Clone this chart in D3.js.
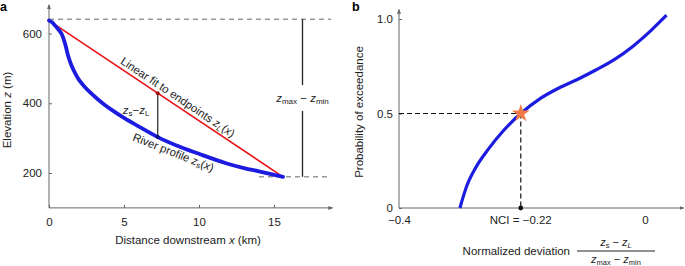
<!DOCTYPE html>
<html>
<head>
<meta charset="utf-8">
<script src="https://cdn.jsdelivr.net/npm/d3@7"></script>
<style>
  body { margin: 0; background: #fff; }
  svg { font-family: "Liberation Sans", Arial, sans-serif; }
</style>
</head>
<body>
<svg id="canvas" width="685" height="266"></svg>
<script>
// panel a: river profile (km, m)
const profileX = [0, 0.2, 0.4, 0.6, 0.84, 1.07, 1.29, 1.5, 1.73, 2.0, 2.4, 2.8, 3.29, 3.7, 4.18, 5.0, 6.0, 7.25, 8.5, 10.0, 11.8, 13.0, 14.07, 15.6];
const profileZ = [637, 632, 623, 613, 599, 571, 534, 508, 487, 467, 446, 429, 410, 396, 381, 358, 333, 303, 279, 255, 228, 214, 204, 189];
const zMax = 641;
const zMin = 189;
const sampleX = 7.25;          // where z_s - z_L is shown
const rangeX = 16.9;           // where z_max - z_min is shown
const ticksA_x = [0, 5, 10, 15];
const ticksA_y = [200, 400, 600];

// panel b: exceedance curve
const devX = [-0.301, -0.29, -0.275, -0.255, -0.23, -0.202, -0.17, -0.14, -0.11, -0.08, -0.05, -0.02, 0.01, 0.035];
const probY = [0, 0.115, 0.215, 0.31, 0.41, 0.5, 0.58, 0.635, 0.68, 0.73, 0.785, 0.855, 0.94, 1.02];
const nciPos = -0.202;         // where the marker sits in the picture
const nciLabel = "NCI = \u22120.22";
const ticksB_x = [-0.4, 0];
const ticksB_y = [0, 0.5, 1.0];

const svg = d3.select("#canvas");
const axisColor = "#666";
const blue = "#1c1ce0";
const red = "#e8151b";

// arrowhead
svg.append("defs").append("marker")
    .attr("id", "arrow")
    .attr("viewBox", "0 0 6 6")
    .attr("refX", 5).attr("refY", 3)
    .attr("markerWidth", 5).attr("markerHeight", 5)
    .attr("orient", "auto")
    .append("path")
    .attr("d", "M0,0.6 L6,3 L0,5.4 Z")
    .attr("fill", axisColor);

function styleAxis(g) {
    g.select(".domain").remove();
    g.selectAll(".tick line").attr("stroke", axisColor);
    g.selectAll(".tick text").attr("fill", "#222").attr("font-size", 11.5);
}

// ---------- panel a ----------
const xA = d3.scaleLinear().domain([0, 15]).range([49, 274]);
const yA = d3.scaleLinear().domain([200, 600]).range([173, 33.5]);

svg.append("g")
    .attr("transform", `translate(0,${yA(100)})`)
    .call(d3.axisBottom(xA).tickValues(ticksA_x).tickSizeInner(-3).tickSizeOuter(0).tickPadding(10))
    .call(styleAxis);
svg.append("g")
    .attr("transform", `translate(${xA(0)},0)`)
    .call(d3.axisLeft(yA).tickValues(ticksA_y).tickSizeInner(-3).tickSizeOuter(0).tickPadding(7))
    .call(styleAxis);

// axis lines with arrows
svg.append("line")
    .attr("x1", xA(0)).attr("x2", xA(18.9))
    .attr("y1", yA(100)).attr("y2", yA(100))
    .attr("stroke", axisColor).attr("marker-end", "url(#arrow)");
svg.append("line")
    .attr("x1", xA(0)).attr("x2", xA(0))
    .attr("y1", yA(100)).attr("y2", yA(682))
    .attr("stroke", axisColor).attr("marker-end", "url(#arrow)");

// dashed z_max / z_min
svg.append("line")
    .attr("x1", xA(0)).attr("x2", xA(18.8))
    .attr("y1", yA(zMax)).attr("y2", yA(zMax))
    .attr("stroke", "#666").attr("stroke-dasharray", "5 4");
svg.append("line")
    .attr("x1", xA(14)).attr("x2", xA(18.8))
    .attr("y1", yA(zMin)).attr("y2", yA(zMin))
    .attr("stroke", "#666").attr("stroke-dasharray", "5 4");

// z_max - z_min bar with a gap for the label
svg.append("line")
    .attr("x1", xA(rangeX)).attr("x2", xA(rangeX))
    .attr("y1", yA(zMax)).attr("y2", 85)
    .attr("stroke", "#222").attr("stroke-width", 1.3);
svg.append("line")
    .attr("x1", xA(rangeX)).attr("x2", xA(rangeX))
    .attr("y1", 111).attr("y2", yA(zMin))
    .attr("stroke", "#222").attr("stroke-width", 1.3);

const rl = svg.append("text")
    .attr("x", xA(rangeX)).attr("y", 102)
    .attr("text-anchor", "middle")
    .attr("font-size", 11.5).attr("fill", "#222");
rl.append("tspan").attr("font-style", "italic").text("z");
rl.append("tspan").attr("font-size", 8).attr("dy", 2).text("max");
rl.append("tspan").attr("dy", -2).text(" \u2212 ");
rl.append("tspan").attr("font-style", "italic").text("z");
rl.append("tspan").attr("font-size", 8).attr("dy", 2).text("min");

// linear fit
const x0 = profileX[0], z0 = profileZ[0];
const x1 = profileX[profileX.length - 1], z1 = profileZ[profileZ.length - 1];
const fitZ = x => z0 + (z1 - z0) * (x - x0) / (x1 - x0);

svg.append("line")
    .attr("x1", xA(x0)).attr("y1", yA(z0))
    .attr("x2", xA(x1)).attr("y2", yA(z1))
    .attr("stroke", red).attr("stroke-width", 1.6);

// river profile
const pts = profileX.map((x, i) => [x, profileZ[i]]);
svg.append("path")
    .datum(pts)
    .attr("fill", "none")
    .attr("stroke", blue)
    .attr("stroke-width", 3.8)
    .attr("stroke-linecap", "round")
    .attr("d", d3.line().x(d => xA(d[0])).y(d => yA(d[1])).curve(d3.curveCatmullRom.alpha(0.5)));

// z_s - z_L segment
const sampleZ = profileZ[profileX.indexOf(sampleX)];
svg.append("line")
    .attr("x1", xA(sampleX)).attr("x2", xA(sampleX))
    .attr("y1", yA(fitZ(sampleX))).attr("y2", yA(sampleZ))
    .attr("stroke", "#222").attr("stroke-width", 1.2);
svg.append("circle").attr("cx", xA(sampleX)).attr("cy", yA(fitZ(sampleX))).attr("r", 2).attr("fill", "#a01010");
svg.append("circle").attr("cx", xA(sampleX)).attr("cy", yA(sampleZ)).attr("r", 2).attr("fill", "#101080");

const dl = svg.append("text")
    .attr("x", 136).attr("y", 114)
    .attr("text-anchor", "middle")
    .attr("font-size", 11.5).attr("fill", "#222");
dl.append("tspan").attr("font-style", "italic").text("z");
dl.append("tspan").attr("font-size", 8).attr("dy", 2).text("s");
dl.append("tspan").attr("dy", -2).text("\u2212");
dl.append("tspan").attr("font-style", "italic").text("z");
dl.append("tspan").attr("font-size", 8).attr("dy", 2).text("L");

// rotated labels
const fitAngle = Math.atan2(yA(z1) - yA(z0), xA(x1) - xA(x0)) * 180 / Math.PI;
const lx = 8.3;
const fl = svg.append("text")
    .attr("transform", `translate(${xA(lx)},${yA(fitZ(lx))}) rotate(${fitAngle})`)
    .attr("y", -4)
    .attr("text-anchor", "middle")
    .attr("font-size", 11.3).attr("fill", "#222");
fl.append("tspan").text("Linear fit to endpoints ");
fl.append("tspan").attr("font-style", "italic").text("z");
fl.append("tspan").attr("font-style", "italic").attr("font-size", 8).attr("dy", 2).text("L");
fl.append("tspan").attr("dy", -2).text("(");
fl.append("tspan").attr("font-style", "italic").text("x");
fl.append("tspan").text(")");

const pl = svg.append("text")
    .attr("transform", `translate(172,156) rotate(21.5)`)
    .attr("text-anchor", "middle")
    .attr("font-size", 11.3).attr("fill", "#222");
pl.append("tspan").text("River profile ");
pl.append("tspan").attr("font-style", "italic").text("z");
pl.append("tspan").attr("font-size", 8).attr("dy", 2).text("s");
pl.append("tspan").attr("dy", -2).text("(");
pl.append("tspan").attr("font-style", "italic").text("x");
pl.append("tspan").text(")");

// axis titles a
const ya = svg.append("text")
    .attr("transform", `translate(11,110) rotate(-90)`)
    .attr("text-anchor", "middle")
    .attr("font-size", 11.5).attr("fill", "#222");
ya.append("tspan").text("Elevation ");
ya.append("tspan").attr("font-style", "italic").text("z");
ya.append("tspan").text(" (m)");

const xa = svg.append("text")
    .attr("x", 188).attr("y", 244)
    .attr("text-anchor", "middle")
    .attr("font-size", 11.5).attr("fill", "#222");
xa.append("tspan").text("Distance downstream ");
xa.append("tspan").attr("font-style", "italic").text("x");
xa.append("tspan").text(" (km)");

svg.append("text").attr("x", 0).attr("y", 11)
    .attr("font-weight", "bold").attr("font-size", 12.5).text("a");

// ---------- panel b ----------
const xB = d3.scaleLinear().domain([-0.4, 0]).range([399, 645]);
const yB = d3.scaleLinear().domain([0, 1]).range([208, 19]);

svg.append("g")
    .attr("transform", `translate(0,${yB(0)})`)
    .call(d3.axisBottom(xB).tickValues(ticksB_x).tickFormat(d => d === 0 ? "0" : d3.format(".1f")(d).replace("-", "\u2212"))
        .tickSizeInner(0).tickSizeOuter(0).tickPadding(8))
    .call(styleAxis);
svg.append("g")
    .attr("transform", `translate(${xB(-0.4)},0)`)
    .call(d3.axisLeft(yB).tickValues(ticksB_y).tickFormat(d => d === 0 ? "0" : d3.format(".1f")(d))
        .tickSizeInner(-3).tickSizeOuter(0).tickPadding(6))
    .call(styleAxis);

svg.append("line")
    .attr("x1", xB(-0.4)).attr("x2", xB(0.063))
    .attr("y1", yB(0)).attr("y2", yB(0))
    .attr("stroke", axisColor).attr("marker-end", "url(#arrow)");
svg.append("line")
    .attr("x1", xB(-0.4)).attr("x2", xB(-0.4))
    .attr("y1", yB(0)).attr("y2", yB(1.05))
    .attr("stroke", axisColor).attr("marker-end", "url(#arrow)");

// guides to the NCI point
svg.append("line")
    .attr("x1", xB(-0.4)).attr("x2", xB(nciPos))
    .attr("y1", yB(0.5)).attr("y2", yB(0.5))
    .attr("stroke", "#111").attr("stroke-width", 1.2).attr("stroke-dasharray", "5 3");
svg.append("line")
    .attr("x1", xB(nciPos)).attr("x2", xB(nciPos))
    .attr("y1", yB(0.5)).attr("y2", yB(0))
    .attr("stroke", "#111").attr("stroke-width", 1.2).attr("stroke-dasharray", "5 3");
svg.append("circle").attr("cx", xB(nciPos)).attr("cy", yB(0)).attr("r", 2.4).attr("fill", "#111");

const cdf = devX.map((x, i) => [x, probY[i]]);
svg.append("path")
    .datum(cdf)
    .attr("fill", "none")
    .attr("stroke", blue)
    .attr("stroke-width", 3.2)
    .attr("d", d3.line().x(d => xB(d[0])).y(d => yB(d[1])).curve(d3.curveMonotoneX));

svg.append("path")
    .attr("transform", `translate(${xB(nciPos)},${yB(0.5)})`)
    .attr("d", d3.symbol().type(d3.symbolStar).size(100)())
    .attr("fill", "#f07a45");

svg.append("text")
    .attr("x", xB(nciPos)).attr("y", 224)
    .attr("text-anchor", "middle")
    .attr("font-size", 11.5).attr("fill", "#222")
    .text(nciLabel);

// axis titles b
svg.append("text")
    .attr("transform", `translate(363,112) rotate(-90)`)
    .attr("text-anchor", "middle")
    .attr("font-size", 11.5).attr("fill", "#222")
    .text("Probability of exceedance");

svg.append("text")
    .attr("x", 570).attr("y", 255)
    .attr("text-anchor", "end")
    .attr("font-size", 11.5).attr("fill", "#222")
    .text("Normalized deviation");

const num = svg.append("text")
    .attr("x", 616).attr("y", 246)
    .attr("text-anchor", "middle")
    .attr("font-size", 11).attr("fill", "#222");
num.append("tspan").attr("font-style", "italic").text("z");
num.append("tspan").attr("font-size", 7.5).attr("dy", 2).text("s");
num.append("tspan").attr("dy", -2).text(" \u2212 ");
num.append("tspan").attr("font-style", "italic").text("z");
num.append("tspan").attr("font-style", "italic").attr("font-size", 7.5).attr("dy", 2).text("L");

svg.append("line")
    .attr("x1", 577).attr("x2", 655)
    .attr("y1", 251).attr("y2", 251)
    .attr("stroke", "#222").attr("stroke-width", 1);

const den = svg.append("text")
    .attr("x", 616).attr("y", 263)
    .attr("text-anchor", "middle")
    .attr("font-size", 11).attr("fill", "#222");
den.append("tspan").attr("font-style", "italic").text("z");
den.append("tspan").attr("font-size", 7.5).attr("dy", 2).text("max");
den.append("tspan").attr("dy", -2).text(" \u2212 ");
den.append("tspan").attr("font-style", "italic").text("z");
den.append("tspan").attr("font-size", 7.5).attr("dy", 2).text("min");

svg.append("text").attr("x", 352).attr("y", 11)
    .attr("font-weight", "bold").attr("font-size", 12.5).text("b");
</script>
</body>
</html>
